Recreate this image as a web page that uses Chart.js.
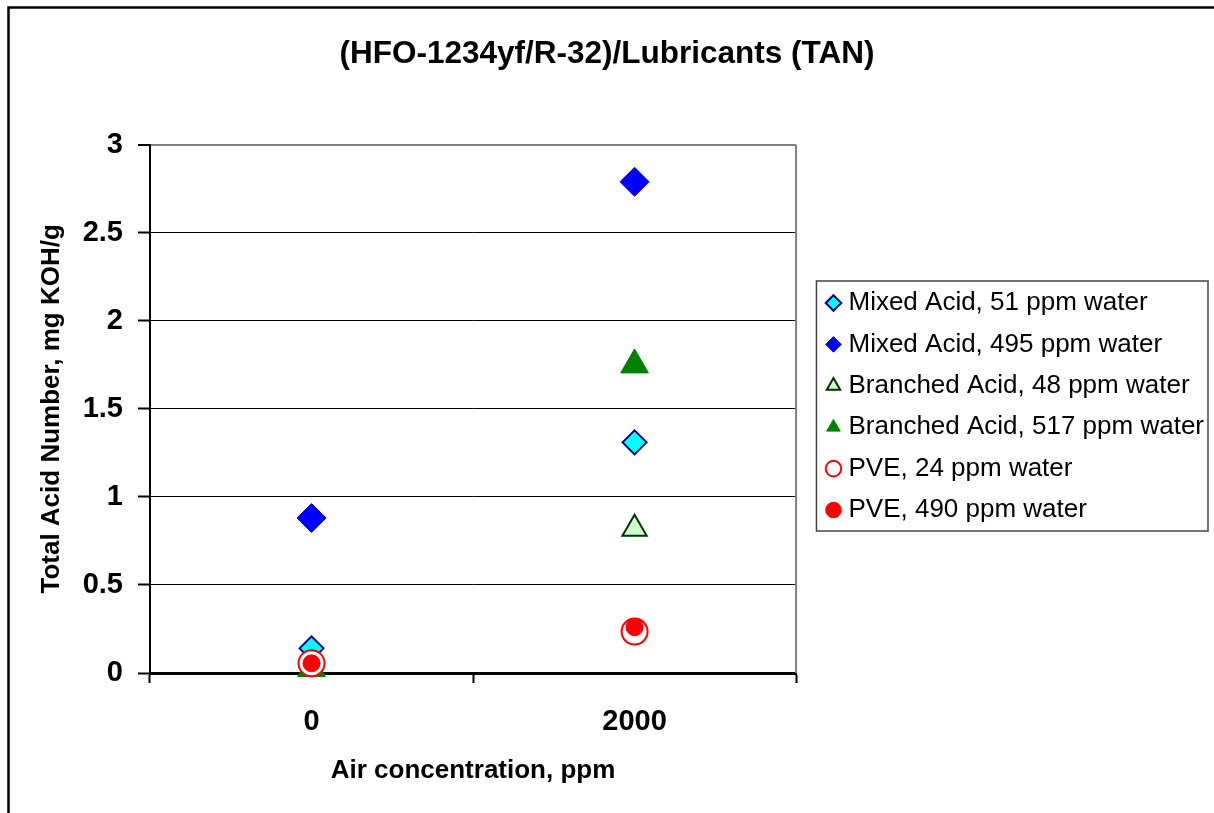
<!DOCTYPE html>
<html>
<head>
<meta charset="utf-8">
<script src="https://cdn.jsdelivr.net/npm/chart.js@4/dist/chart.umd.min.js"></script>
<style>
  html, body { margin: 0; padding: 0; background: #fff; }
  #wrap { width: 1214px; height: 813px; position: relative; }
</style>
</head>
<body>
<div id="wrap"><canvas id="tan"></canvas></div>
<script>
// values
const categories = ["0", "2000"];
const mixed51 = [0.14, 1.31];
const mixed495 = [0.88, 2.79];
const branched48 = [0.025, 0.82];
const branched517 = [0.025, 1.75];
const pve24 = [0.055, 0.235];
const pve490 = [0.055, 0.26];

const seriesNames = [
    "Mixed Acid, 51 ppm water",
    "Mixed Acid, 495 ppm water",
    "Branched Acid, 48 ppm water",
    "Branched Acid, 517 ppm water",
    "PVE, 24 ppm water",
    "PVE, 490 ppm water",
];

Chart.defaults.font.family = "'Liberation Sans', Arial, sans-serif";
Chart.defaults.color = "#000";

// frame, plot border and legend box
const decor = {
    id: "decor",
    beforeDraw(chart) {
        const { ctx, width, height } = chart;
        ctx.save();
        ctx.fillStyle = "#fff";
        ctx.fillRect(0, 0, width, height);
        ctx.restore();
    },
    beforeDatasetsDraw(chart) {
        const { ctx, chartArea: a } = chart;
        ctx.save();
        ctx.strokeStyle = "#808080";
        ctx.lineWidth = 2;
        ctx.beginPath();
        ctx.moveTo(a.right, a.top);
        ctx.lineTo(a.right, a.bottom);
        ctx.stroke();
        ctx.restore();
    },
    afterDraw(chart) {
        const { ctx, legend, width, height } = chart;
        ctx.save();
        const hb = legend.legendHitBoxes;
        const l = Math.min(...hb.map((h) => h.left)) - 15;
        const t = Math.min(...hb.map((h) => h.top)) - 9;
        const b = Math.max(...hb.map((h) => h.top + h.height)) + 8;
        const r = legend.right - 6;
        ctx.strokeStyle = "#444";
        ctx.lineWidth = 1.5;
        ctx.strokeRect(l, t, r - l, b - t);
        // outer chart frame
        ctx.strokeStyle = "#000";
        ctx.lineWidth = 2.5;
        ctx.beginPath();
        ctx.moveTo(8.5, height);
        ctx.lineTo(8.5, 7.5);
        ctx.lineTo(width, 7.5);
        ctx.stroke();
        ctx.restore();
    },
};

const tickFont = { size: 29, weight: "bold" };
const titleFont = { size: 26, weight: "bold" };

new Chart(document.getElementById("tan"), {
    type: "line",
    plugins: [decor],
    data: {
        labels: categories,
        datasets: [
            {
                label: seriesNames[0],
                data: mixed51,
                pointStyle: "rectRot",
                pointRadius: 12,
                backgroundColor: "#00FFFF",
                borderColor: "#000080",
                borderWidth: 2,
                order: 5,
            },
            {
                label: seriesNames[1],
                data: mixed495,
                pointStyle: "rectRot",
                pointRadius: 14.5,
                backgroundColor: "#0000FF",
                borderColor: "#0000FF",
                borderWidth: 1,
                order: 4,
            },
            {
                label: seriesNames[2],
                data: branched48,
                pointStyle: "triangle",
                pointRadius: 14,
                backgroundColor: "#CCFFCC",
                borderColor: "#003300",
                borderWidth: 2,
                order: 3,
            },
            {
                label: seriesNames[3],
                data: branched517,
                pointStyle: "triangle",
                pointRadius: 16,
                backgroundColor: "#008000",
                borderColor: "#008000",
                borderWidth: 1,
                order: 2,
            },
            {
                label: seriesNames[4],
                data: pve24,
                pointStyle: "circle",
                pointRadius: 13,
                backgroundColor: "#FFFFFF",
                borderColor: "#FF0000",
                borderWidth: 2,
                order: 1,
            },
            {
                label: seriesNames[5],
                data: pve490,
                pointStyle: "circle",
                pointRadius: 8.5,
                backgroundColor: "#FF0000",
                borderColor: "#FF0000",
                borderWidth: 1,
                order: 0,
            },
        ],
    },
    options: {
        responsive: true,
        maintainAspectRatio: false,
        animation: false,
        showLine: false,
        clip: false,
        layout: { padding: 0 },
        plugins: {
            tooltip: { enabled: false },
            title: {
                display: true,
                text: "(HFO-1234yf/R-32)/Lubricants (TAN)",
                color: "#000",
                font: { size: 31.5, weight: "bold" },
                padding: { top: 35, bottom: 72 },
            },
            legend: {
                position: "right",
                reverse: true,
                maxWidth: 440,
                labels: {
                    usePointStyle: true,
                    boxWidth: 4,
                    boxHeight: 11,
                    padding: 15.4,
                    color: "#000",
                    font: { size: 26 },
                },
            },
        },
        scales: {
            x: {
                type: "category",
                offset: true,
                border: { color: "#000", width: 3 },
                grid: {
                    offset: true,
                    drawOnChartArea: false,
                    tickLength: 10,
                    tickWidth: 2,
                    tickColor: "#000",
                },
                ticks: { font: tickFont, color: "#000", padding: 22 },
                title: {
                    display: true,
                    text: "Air concentration, ppm",
                    color: "#000",
                    font: titleFont,
                    padding: { top: 0, bottom: 26.4 },
                },
                afterFit(scale) {
                    scale.height = 140;
                },
            },
            y: {
                min: 0,
                max: 3,
                border: { color: "#000", width: 2 },
                grid: {
                    color: (c) => (c.tick && c.tick.value === 3 ? "#808080" : "#000"),
                    lineWidth: (c) => (c.tick && c.tick.value === 3 ? 2 : 1),
                    tickLength: 12,
                    tickWidth: 2,
                    tickColor: "#000",
                },
                ticks: {
                    stepSize: 0.5,
                    font: tickFont,
                    color: "#000",
                    padding: 15,
                    callback: (v) => String(v),
                },
                title: {
                    display: true,
                    text: "Total Acid Number, mg KOH/g",
                    color: "#000",
                    font: titleFont,
                    padding: { top: 36.4, bottom: 0 },
                },
                afterFit(scale) {
                    scale.width = 150;
                },
            },
            gap: {
                type: "linear",
                position: "right",
                display: true,
                grid: { display: false },
                border: { display: false },
                ticks: { display: false },
                afterFit(scale) {
                    scale.width = 20;
                },
            },
        },
    },
});
</script>
</body>
</html>
